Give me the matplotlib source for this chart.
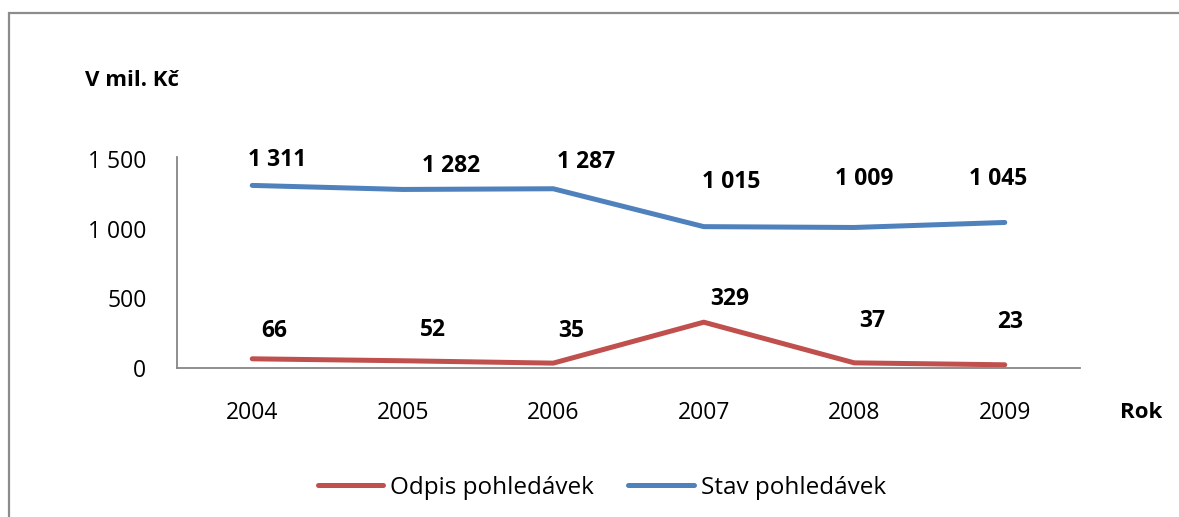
import matplotlib
matplotlib.use("Agg")
import matplotlib.pyplot as plt
from matplotlib.patches import Rectangle

years = ["2004", "2005", "2006", "2007", "2008", "2009"]
odpis = [66, 52, 35, 329, 37, 23]
stav = [1311, 1282, 1287, 1015, 1009, 1045]
yticks = [0, 500, 1000, 1500]

# where Excel put the value labels, as offsets from the point (points)
odpis_off = [(16, 20), (22, 22), (13, 23), (19, 17), (13, 30), (4, 31)]
stav_off = [(18, 18), (35, 17), (24, 19), (20, 32), (7, 35), (-5, 31)]

RED = "#C0504D"
BLUE = "#4F81BD"
GRAY = "#868686"

plt.rcParams["font.family"] = ["Open Sans", "DejaVu Sans"]


def fmt(v):
    return f"{v:,}".replace(",", " ")


fig = plt.figure(figsize=(11.79, 5.17), dpi=100)
ax = fig.add_axes([177 / 1179, 1 - 368 / 517, (1080 - 177) / 1179, (368 - 157) / 517])

x = list(range(len(years)))
ax.plot(x, odpis, color=RED, lw=3.6, solid_capstyle="round", label="Odpis pohledávek")
ax.plot(x, stav, color=BLUE, lw=3.6, solid_capstyle="round", label="Stav pohledávek")

for series, offs in ((odpis, odpis_off), (stav, stav_off)):
    for xi, v, off in zip(x, series, offs):
        ax.annotate(fmt(v), (xi, v), xytext=off, textcoords="offset points",
                    ha="center", va="center", fontsize=16.5, fontweight="bold")

ax.set_xlim(-0.5, len(years) - 0.5)
ax.set_ylim(0, 1515)
ax.set_xticks(x)
ax.set_xticklabels(years)
ax.set_yticks(yticks)
ax.set_yticklabels([fmt(v) for v in yticks])
ax.tick_params(length=0, labelsize=16.5)
ax.tick_params(axis="x", pad=24)
ax.tick_params(axis="y", pad=22)
for s in ("top", "right"):
    ax.spines[s].set_visible(False)
for s in ("left", "bottom"):
    ax.spines[s].set_color(GRAY)
    ax.spines[s].set_linewidth(1.3)

fig.text(85 / 1179, 1 - 80 / 517, "V mil. Kč", fontsize=16, fontweight="bold",
         ha="left", va="center")
fig.text(1120 / 1179, 1 - 412 / 517, "Rok", fontsize=16, fontweight="bold",
         ha="left", va="center")

fig.legend(loc="center", bbox_to_anchor=(602 / 1179, 1 - 488 / 517), ncol=2,
           frameon=False, fontsize=17.5, handlelength=2.7, handletextpad=0.3,
           columnspacing=1.4)

# chart border, cut by the picture edges on the right and bottom
fig.patches.append(Rectangle((9 / 1179, -0.1), 1.2, 1.1 - 13 / 517,
                             transform=fig.transFigure, fill=False,
                             edgecolor="#8c8c8c", lw=1.6))

fig.savefig("out.png", dpi=100)
